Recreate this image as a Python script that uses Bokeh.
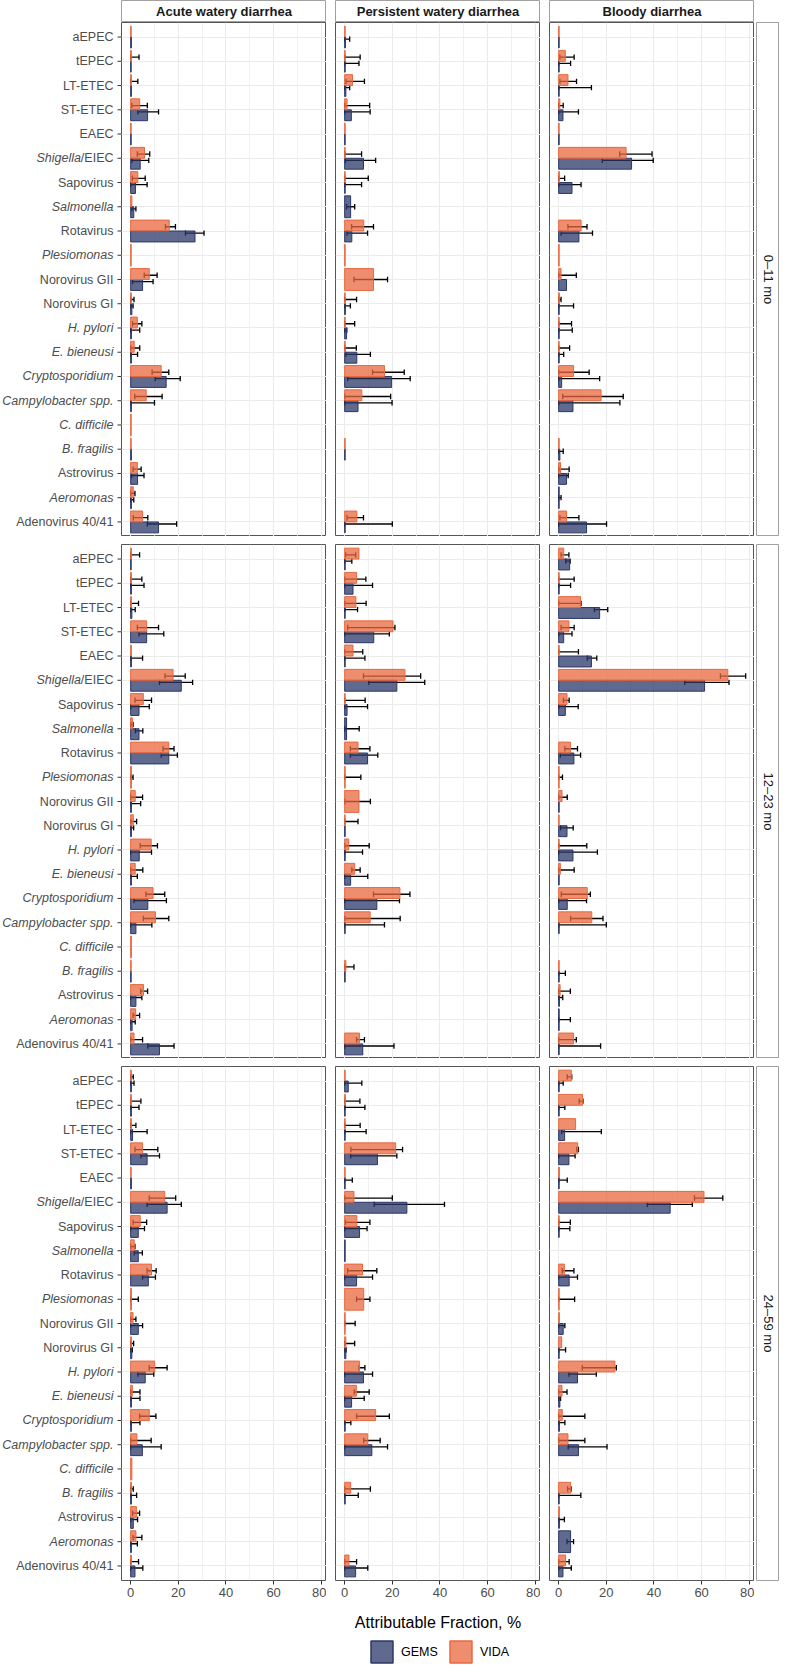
import math
from bokeh.plotting import figure
from bokeh.models import Range1d, FixedTicker, Spacer, ColumnDataSource
from bokeh.layouts import row, column
from bokeh.embed import file_html
from bokeh.resources import INLINE
from bokeh.core.properties import value

# ---------------- data ----------------
categories = ["aEPEC", "tEPEC", "LT-ETEC", "ST-ETEC", "EAEC", "Shigella/EIEC", "Sapovirus",
              "Salmonella", "Rotavirus", "Plesiomonas", "Norovirus GII", "Norovirus GI",
              "H. pylori", "E. bieneusi", "Cryptosporidium", "Campylobacter spp.",
              "C. difficile", "B. fragilis", "Astrovirus", "Aeromonas", "Adenovirus 40/41"]
italic_categories = ["Salmonella", "Plesiomonas", "H. pylori", "E. bieneusi", "Cryptosporidium",
                     "Campylobacter spp.", "C. difficile", "B. fragilis", "Aeromonas"]
mixed_label = ("Shigella/EIEC", "Shigella", "/EIEC")
syndromes = ["Acute watery diarrhea", "Persistent watery diarrhea", "Bloody diarrhea"]
age_groups = ["0–11 mo", "12–23 mo", "24–59 mo"]
series_names = ["GEMS", "VIDA"]
x_ticks = [0, 20, 40, 60, 80]
x_minor = [10, 30, 50, 70]
x_title = "Attributable Fraction, %"

# each entry: (attributable fraction, lower CI, upper CI) or None when not estimated
gems_awd_0_11 = [(0.3, None, None), (0.2, None, None), (0.3, None, None), (7.1, 3.0, 11.7), (0.2, None, None),
                 (4.0, 0.5, 7.6), (2.0, 0.0, 6.9), (1.3, 0.5, 2.2), (27.0, 23.0, 30.8), None,
                 (5.0, 0.8, 9.4), (0.5, 0.0, 1.0), (0.3, 0.0, 3.8), (0.3, 0.0, 2.9), (14.9, 10.3, 20.8),
                 (0.3, 0.0, 10.0), None, (0.3, None, None), (2.9, 0.4, 5.6), (0.3, 0.0, 1.3), (11.7, 7.0, 19.3)]
vida_awd_0_11 = [(0.2, None, None), (0.3, 0.0, 3.5), (0.3, 0.0, 3.0), (3.8, 0.5, 7.0), (0.2, None, None),
                 (5.8, 2.8, 8.0), (3.0, 0.7, 6.1), (0.5, None, None), (16.2, 14.6, 18.8), (0.2, None, None),
                 (7.8, 5.7, 11.1), (0.3, 0.0, 1.4), (2.8, 0.8, 4.7), (1.5, 0.0, 3.8), (12.8, 9.0, 16.0),
                 (6.5, 1.7, 13.2), (0.2, None, None), (0.2, None, None), (2.8, 1.0, 4.4), (1.1, 0.0, 1.8), (5.0, 1.1, 7.2)]
gems_pwd_0_11 = [(0.3, 0.0, 2.1), (0.2, 0.0, 6.0), (0.5, 0.0, 2.1), (2.8, 0.0, 10.7), (0.2, None, None),
                 (7.9, 0.3, 13.0), (0.2, 0.0, 7.1), (2.5, 0.8, 4.2), (3.0, 1.0, 9.6), None,
                 None, (0.3, 0.0, 2.4), (0.8, 0.0, 0.9), (5.1, 0.5, 10.8), (19.7, 1.25, 27.5),
                 (5.6, 0.0, 19.9), None, (0.2, None, None), None, None, (0.2, 0.0, 20.0)]
vida_pwd_0_11 = [(0.2, None, None), (0.2, 0.0, 6.5), (3.3, 0.5, 8.3), (1.0, 0.0, 10.5), (0.2, None, None),
                 (0.2, 0.0, 7.1), (0.2, 0.0, 9.9), None, (8.0, 2.9, 12.1), (0.2, None, None),
                 (12.1, 3.9, 18.0), (0.2, 0.0, 5.0), (0.2, 0.0, 4.2), (0.2, 0.0, 4.9), (16.7, 11.7, 25.0),
                 (7.2, 0.0, 19.3), None, (0.2, None, None), None, None, (5.1, 1.0, 7.9)]
gems_bd_0_11 = [(0.2, None, None), (0.2, 0.0, 5.0), (0.2, 0.0, 13.75), (1.8, 0.0, 8.3), (0.2, None, None),
                (30.6, 18.3, 39.7), (5.6, 0.0, 9.4), None, (8.5, 1.0, 14.2), None,
                (3.3, None, None), (0.2, 0.0, 6.25), (0.2, 0.0, 5.7), (0.2, 0.0, 2.1), (1.25, 0.0, 17.2),
                (6.0, 0.0, 25.7), None, (0.5, 0.0, 1.9), (3.3, 0.0, 4.0), (0.2, 0.0, 1.0), (11.7, 0.0, 20.1)]
vida_bd_0_11 = [(0.2, None, None), (2.8, 0.5, 6.5), (3.9, 0.5, 7.5), (0.5, 0.0, 1.9), (0.2, None, None),
                (28.3, 25.6, 39.2), (0.3, 0.0, 2.5), None, (9.4, 3.9, 11.9), (0.2, None, None),
                (1.0, 0.0, 7.4), (0.3, 0.0, 1.0), (0.2, 0.0, 5.4), (0.2, 0.0, 4.6), (6.25, 0.0, 12.8),
                (17.8, 1.7, 27.1), None, (0.2, None, None), (0.8, 0.0, 4.4), None, (3.3, 0.5, 8.5)]

gems_awd_12_23 = [(0.2, None, None), (0.3, 0.0, 5.6), (0.5, 0.0, 1.9), (6.7, 3.5, 13.9), (0.3, 0.0, 5.0),
                  (21.25, 12.1, 26.0), (3.5, 0.0, 7.8), (3.5, 2.0, 5.1), (16.0, 12.8, 19.6), None,
                  (0.3, 0.0, 4.2), (0.3, 0.0, 1.25), (3.6, 0.0, 8.75), (0.3, 0.0, 2.8), (7.2, 1.4, 15.0),
                  (2.2, 0.0, 8.9), None, (0.2, None, None), (2.2, 0.0, 4.7), (0.6, 0.0, 1.9), (12.1, 7.2, 18.2)]
vida_awd_12_23 = [(0.3, 0.0, 3.75), (0.3, 0.0, 4.7), (0.3, 0.0, 3.3), (6.7, 2.8, 11.7), (0.3, None, None),
                  (17.8, 14.4, 22.9), (5.3, 1.8, 8.75), (0.7, 0.0, 1.0), (16.0, 13.6, 18.2), (0.3, 0.0, 1.0),
                  (1.9, 0.0, 5.0), (1.1, 0.0, 2.5), (8.6, 4.0, 11.25), (1.9, 0.0, 5.1), (9.4, 6.4, 14.3),
                  (10.4, 5.3, 16.0), (0.3, None, None), (0.2, None, None), (5.4, 4.2, 7.1), (2.1, 1.0, 3.75), (1.4, 0.0, 5.0)]
gems_pwd_12_23 = [(0.2, 0.0, 3.0), (3.5, 0.0, 11.7), (0.2, 0.0, 5.4), (12.2, 0.0, 18.75), (0.2, 0.0, 8.5),
                  (21.9, 10.1, 33.6), (1.0, 0.0, 9.6), (0.8, 0.0, 6.1), (9.6, 2.4, 13.9), None,
                  None, (0.2, None, None), (0.2, 0.0, 7.5), (2.5, 0.0, 9.7), (13.5, 0.0, 23.0),
                  (0.2, 0.0, 16.7), None, (0.2, None, None), None, None, (7.6, 0.0, 20.7)]
vida_pwd_12_23 = [(6.0, 0.4, 4.6), (5.0, 0.0, 8.9), (4.7, 0.0, 9.0), (20.3, 1.25, 21.1), (3.5, 0.0, 7.6),
                  (25.3, 7.9, 31.9), (0.2, 0.0, 8.6), None, (5.6, 2.4, 10.6), (0.2, 0.0, 6.8),
                  (6.0, 0.0, 10.8), (0.2, 0.0, 5.6), (1.7, 0.0, 10.3), (4.2, 3.0, 6.5), (23.2, 12.1, 27.4),
                  (10.7, 0.0, 23.3), None, (0.5, 0.0, 3.9), None, None, (6.25, 5.0, 8.3)]
gems_bd_12_23 = [(4.6, 3.0, 4.8), (0.2, 0.0, 5.0), (17.2, 15.0, 20.6), (2.1, 0.0, 5.6), (13.75, 12.0, 16.0),
                 (61.25, 52.9, 71.5), (2.8, 0.0, 8.2), None, (6.4, 0.7, 9.2), None,
                 (0.2, None, None), (3.5, 0.8, 6.1), (6.0, 0.0, 16.25), (0.2, None, None), (3.6, 0.0, 11.7),
                 (0.2, 0.0, 20.0), None, (0.2, 0.0, 2.8), (0.3, 0.0, 1.7), (0.2, 0.0, 4.9), (0.2, 0.0, 17.6)]
vida_bd_12_23 = [(2.1, 1.0, 4.3), (0.2, 0.0, 6.5), (9.2, 0.0, 9.4), (4.3, 1.0, 6.5), (0.2, 0.0, 8.3),
                 (71.0, 67.9, 78.5), (3.5, 2.0, 4.4), None, (4.9, 2.6, 7.9), (0.2, 0.0, 1.6),
                 (1.4, 0.0, 3.6), (0.2, None, None), (0.2, 0.0, 11.8), (0.7, 0.0, 6.5), (12.0, 1.1, 13.3),
                 (13.9, 5.0, 18.6), None, (0.2, None, None), (0.6, 0.0, 4.9), None, (6.25, 0.0, 7.4)]

gems_awd_24_59 = [(0.3, 0.0, 1.4), (0.3, 0.0, 3.5), (0.8, 0.0, 6.9), (6.9, 4.3, 12.1), (0.3, None, None),
                  (15.3, 6.9, 21.25), (3.2, 0.0, 5.8), (3.2, 1.5, 4.9), (7.4, 5.0, 10.4), None,
                  (3.2, 0.0, 5.0), (0.5, 0.0, 0.7), (6.1, 3.0, 9.7), (0.3, 0.0, 3.9), (0.3, 0.0, 3.9),
                  (4.9, 0.0, 12.8), None, (0.3, 0.0, 2.5), (1.1, 0.0, 2.9), (0.3, 0.0, 2.8), (1.8, 0.0, 5.1)]
vida_awd_24_59 = [(0.3, 0.0, 1.1), (0.3, 0.0, 4.3), (0.3, 0.0, 2.2), (5.0, 1.8, 11.4), (0.2, None, None),
                  (14.3, 7.8, 18.9), (4.0, 1.0, 6.7), (1.5, 0.0, 1.8), (8.75, 6.9, 10.7), (0.3, 0.0, 3.2),
                  (1.0, 0.0, 2.2), (0.3, 0.0, 1.25), (10.1, 7.8, 15.3), (0.7, 0.0, 3.9), (7.8, 3.75, 10.6),
                  (2.6, 0.0, 8.6), (0.5, None, None), (0.3, 0.0, 1.1), (2.4, 0.8, 3.75), (2.2, 1.0, 4.7), (0.3, 0.0, 3.3)]
gems_pwd_24_59 = [(1.5, 0.0, 7.2), (0.2, 0.0, 8.5), (0.2, 0.0, 9.0), (13.75, 2.5, 21.9), (0.2, 0.0, 3.2),
                  (26.1, 12.4, 41.9), (6.25, 0.0, 9.4), (0.2, None, None), (5.0, 0.0, 11.7), None,
                  None, (0.5, 0.0, 0.6), (7.9, 0.0, 11.7), (2.9, 0.0, 8.2), (0.2, 0.0, 2.6),
                  (11.4, 0.0, 18.0), None, (0.2, 0.0, 5.7), None, None, (4.6, 0.0, 9.7)]
vida_pwd_24_59 = [(0.2, None, None), (0.3, 0.0, 6.4), (0.2, 0.0, 6.5), (21.4, 2.6, 24.3), (0.2, None, None),
                  (3.9, 0.0, 20.0), (5.1, 0.3, 10.6), None, (7.5, 1.25, 13.5), (8.0, 5.0, 10.6),
                  (0.2, 0.0, 4.4), (0.5, 0.0, 4.2), (6.25, 6.0, 8.5), (4.9, 4.0, 10.3), (13.0, 5.0, 18.75),
                  (9.7, 8.0, 14.9), None, (2.5, 0.0, 10.8), None, None, (1.8, 0.0, 5.0)]
gems_bd_24_59 = [(0.2, 0.0, 1.9), (0.2, 0.0, 2.6), (2.5, 1.25, 17.9), (4.3, 0.0, 6.9), (0.2, 0.0, 3.6),
                 (46.8, 37.2, 56.1), (0.2, 0.0, 4.7), None, (4.4, 0.0, 7.9), None,
                 (1.9, 0.0, 2.6), (0.2, 0.0, 2.9), (7.9, 4.3, 15.8), (0.5, 0.0, 0.8), (0.3, 0.0, 2.6),
                 (8.3, 4.0, 20.3), None, (0.2, 0.0, 9.3), (0.3, 0.0, 2.4), (5.0, 3.5, 6.25), (1.8, 0.0, 5.3)]
vida_bd_24_59 = [(5.3, 3.6, 5.5), (10.0, 8.6, 10.2), (7.1, None, None), (8.0, 7.6, 8.3), (0.3, None, None),
                 (61.0, 57.0, 68.9), (0.2, 0.0, 4.9), None, (2.4, 1.5, 6.4), (0.2, 0.0, 6.7),
                 (0.3, None, None), (1.25, None, None), (23.6, 9.9, 24.2), (1.4, 0.0, 3.5), (1.5, 0.0, 11.0),
                 (3.9, 0.0, 11.0), None, (5.0, 3.75, 5.2), (0.3, None, None), None, (2.9, 0.0, 4.4)]

panel_data = [
    [(gems_awd_0_11, vida_awd_0_11), (gems_pwd_0_11, vida_pwd_0_11), (gems_bd_0_11, vida_bd_0_11)],
    [(gems_awd_12_23, vida_awd_12_23), (gems_pwd_12_23, vida_pwd_12_23), (gems_bd_12_23, vida_bd_12_23)],
    [(gems_awd_24_59, vida_awd_24_59), (gems_pwd_24_59, vida_pwd_24_59), (gems_bd_24_59, vida_bd_24_59)],
]

# ---------------- style ----------------
FONT = "Liberation Sans"
W, H = 205, 514
LEFT = 121
GAP_H, GAP_V = 9, 8
STRIP_H, STRIP_W, STRIP_GAP = 22, 23, 2
BOTTOM = 24
FOOT_H = 60
TOTAL_W = LEFT + 3 * W + 2 * GAP_H + STRIP_GAP + STRIP_W

GEMS_FILL, GEMS_LINE = "#2B3768", "#2B3768"
VIDA_FILL, VIDA_LINE = "#E8683F", "#E8683F"
BAR_ALPHA = 0.75
GRID = "#EBEBEB"
PANEL_BORDER = "#555555"
STRIP_BORDER = "#A0A0A0"
TICK_TEXT = "#4D4D4D"
TICK_LINE = "#333333"

n = len(categories)
xr = Range1d(-3.85, 82.2)
yr = Range1d(0.4, n + 0.6)


def bare_fig(width, height, x_range, y_range, bottom=0):
    f = figure(width=width, height=height + bottom, x_range=x_range, y_range=y_range,
               output_backend="svg", toolbar_location=None, x_axis_location=None, y_axis_location=None,
               min_border_left=0, min_border_right=0, min_border_top=0, min_border_bottom=bottom)
    f.xgrid.visible = False
    f.ygrid.visible = False
    f.background_fill_color = "white"
    f.border_fill_color = "white"
    f.outline_line_color = None
    return f


def build_sources(gems, vida):
    bars = {s: dict(y=[], h=[], v=[]) for s in series_names}
    err = dict(x0=[], x1=[], y=[], cy0=[], cy1=[])
    for i in range(n):
        yc = n - i
        g, v = gems[i], vida[i]
        both = g is not None and v is not None
        for name, t, boff, eoff in (("GEMS", g, -0.225, -0.085), ("VIDA", v, 0.225, 0.175)):
            if t is None:
                continue
            val, lo, hi = t
            if both:
                yb, hb, ye = yc + boff, 0.45, yc + eoff
            else:
                yb, hb, ye = yc, 0.9, yc
            bars[name]["y"].append(yb)
            bars[name]["h"].append(hb)
            bars[name]["v"].append(val)
            if lo is not None and hi is not None:
                err["x0"].append(lo)
                err["x1"].append(hi)
                err["y"].append(ye)
                err["cy0"].append(ye - 0.11)
                err["cy1"].append(ye + 0.11)
    return ({k: ColumnDataSource(d) for k, d in bars.items()}, ColumnDataSource(err))


def label_fig(bottom):
    """Category labels (with italics for genus/species names) and tick marks left of column 1."""
    f = bare_fig(LEFT, H, Range1d(0, LEFT), yr, bottom)
    normal = dict(x=[], y=[], t=[])
    italic = dict(x=[], y=[], t=[])
    for i, cat in enumerate(categories):
        yv = n - i
        if cat == mixed_label[0]:
            normal["x"].append(LEFT - 8); normal["y"].append(yv); normal["t"].append(mixed_label[2])
            italic["x"].append(LEFT - 8 - 32.5); italic["y"].append(yv); italic["t"].append(mixed_label[1])
        elif cat in italic_categories:
            italic["x"].append(LEFT - 8); italic["y"].append(yv); italic["t"].append(cat)
        else:
            normal["x"].append(LEFT - 8); normal["y"].append(yv); normal["t"].append(cat)
    for d, style in ((normal, "normal"), (italic, "italic")):
        f.text(x="x", y="y", text="t", source=ColumnDataSource(d), text_align="right",
               text_baseline="middle", text_font=value(FONT), text_font_style=value(style),
               text_font_size=value("12.5px"), text_color=TICK_TEXT)
    ys = [n - i for i in range(n)]
    f.segment(x0=[LEFT - 4] * n, y0=ys, x1=[LEFT] * n, y1=ys, line_color=TICK_LINE, line_width=1)
    return f


def make_panel(ri, ci):
    is_bottom = ri == 2
    p = figure(width=W, height=H + (BOTTOM if is_bottom else 0),
               x_range=xr, y_range=yr, output_backend="svg", toolbar_location=None,
               x_axis_location="below" if is_bottom else None, y_axis_location=None,
               min_border_left=0, min_border_right=0,
               min_border_top=0, min_border_bottom=BOTTOM if is_bottom else 0)
    p.outline_line_color = PANEL_BORDER
    p.outline_line_width = 1
    p.background_fill_color = "white"
    p.border_fill_color = "white"
    p.xgrid.ticker = FixedTicker(ticks=x_ticks, minor_ticks=x_minor)
    p.ygrid.ticker = FixedTicker(ticks=list(range(1, n + 1)))
    p.xgrid.grid_line_color = GRID
    p.xgrid.grid_line_width = 1.1
    p.xgrid.minor_grid_line_color = GRID
    p.xgrid.minor_grid_line_width = 0.7
    p.ygrid.grid_line_color = GRID
    p.ygrid.grid_line_width = 1.1

    if is_bottom:
        ax = p.xaxis[0]
        ax.ticker = FixedTicker(ticks=x_ticks, minor_ticks=x_minor)
        ax.axis_line_color = None
        ax.major_tick_line_color = TICK_LINE
        ax.minor_tick_line_color = None
        ax.major_tick_in = 0
        ax.major_tick_out = 4
        ax.major_label_standoff = 3
        ax.major_label_text_font = FONT
        ax.major_label_text_font_size = "13px"
        ax.major_label_text_color = TICK_TEXT

    gems, vida = panel_data[ri][ci]
    bars, err = build_sources(gems, vida)
    # error bars (drawn below the semi-transparent bars)
    p.segment(x0="x0", y0="y", x1="x1", y1="y", source=err, line_color="black", line_width=1.3)
    p.segment(x0="x0", y0="cy0", x1="x0", y1="cy1", source=err, line_color="black", line_width=1.3)
    p.segment(x0="x1", y0="cy0", x1="x1", y1="cy1", source=err, line_color="black", line_width=1.3)
    for name, fill, line in (("GEMS", GEMS_FILL, GEMS_LINE), ("VIDA", VIDA_FILL, VIDA_LINE)):
        p.hbar(y="y", left=0, right="v", height="h", source=bars[name], fill_color=fill,
               fill_alpha=BAR_ALPHA, line_color=line, line_width=1)
    return p


def top_strip(text):
    s = bare_fig(W, STRIP_H, Range1d(0, 1), Range1d(0, 1))
    s.outline_line_color = STRIP_BORDER
    s.text(x=[0.5], y=[0.5], text=[text], text_align="center", text_baseline="middle",
           text_font=value(FONT), text_font_style=value("bold"), text_font_size=value("13px"),
           text_color="#1A1A1A")
    return s


def right_strip(text, bottom):
    s = bare_fig(STRIP_W, H, Range1d(0, 1), Range1d(0, 1), bottom)
    s.outline_line_color = STRIP_BORDER
    s.text(x=[0.5], y=[0.5], text=[text], angle=-math.pi / 2, text_align="center", text_baseline="middle",
           text_font=value(FONT), text_font_size=value("13px"), text_color="#1A1A1A")
    return s


strip_row = row(Spacer(width=LEFT, height=STRIP_H), top_strip(syndromes[0]), Spacer(width=GAP_H, height=STRIP_H),
                top_strip(syndromes[1]), Spacer(width=GAP_H, height=STRIP_H), top_strip(syndromes[2]))

rows = [strip_row]
for ri in range(3):
    bottom = BOTTOM if ri == 2 else 0
    r = row(label_fig(bottom), make_panel(ri, 0), Spacer(width=GAP_H, height=H), make_panel(ri, 1),
            Spacer(width=GAP_H, height=H), make_panel(ri, 2), Spacer(width=STRIP_GAP, height=H),
            right_strip(age_groups[ri], bottom))
    rows.append(r)
    if ri < 2:
        rows.append(Spacer(width=TOTAL_W, height=GAP_V))

# footer: x-axis title and legend
foot = bare_fig(TOTAL_W, FOOT_H, Range1d(0, TOTAL_W), Range1d(0, FOOT_H))
panels_center = LEFT + (3 * W + 2 * GAP_H) / 2
foot.text(x=[panels_center], y=[FOOT_H - 18], text=[x_title], text_align="center", text_baseline="middle",
          text_font=value(FONT), text_font_size=value("16px"), text_color="black")
leg_center = panels_center + 4
leg_start = leg_center - 71
key_y = 12.5
key_x = [leg_start + 11, leg_start + 90]
text_x = [leg_start + 30, leg_start + 109]
foot.rect(x=key_x, y=[key_y, key_y], width=22, height=22, fill_color=[GEMS_FILL, VIDA_FILL],
          fill_alpha=BAR_ALPHA, line_color=[GEMS_LINE, VIDA_LINE], line_width=1.5)
foot.text(x=text_x, y=[key_y, key_y], text=series_names, text_align="left", text_baseline="middle",
          text_font=value(FONT), text_font_size=value("12.5px"), text_color="black")
rows.append(foot)

layout = column(*rows)
open("out.html", "w").write(file_html(layout, INLINE))
